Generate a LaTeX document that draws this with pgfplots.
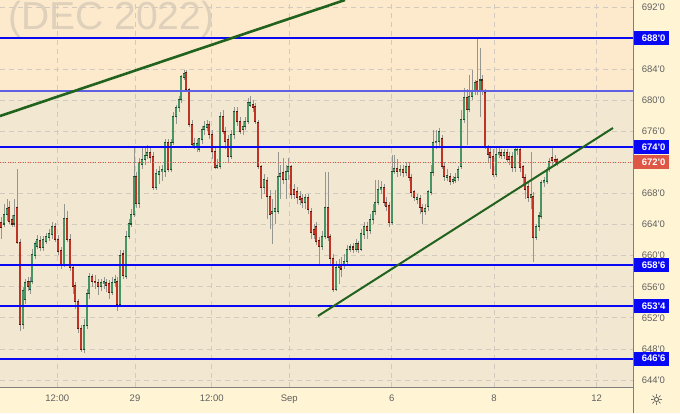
\documentclass[border=0pt]{standalone}
\usepackage{pgfplots}
\pgfplotsset{compat=1.18}
\usepackage{pgfplotstable}
\usepackage{fontspec}
\setmainfont{Liberation Sans}
\newfontfamily\dejavu{DejaVu Sans}
\newcommand{\q}{\textquotesingle}

\definecolor{bglow}{RGB}{242,231,208}
\definecolor{bgup}{RGB}{253,234,204}
\definecolor{panel}{RGB}{255,244,212}
\definecolor{mark}{RGB}{222,208,187}
\definecolor{gridc}{RGB}{210,202,190}
\definecolor{tickc}{RGB}{95,95,95}
\definecolor{lvl}{RGB}{8,8,245}
\definecolor{lvlthin}{RGB}{95,95,228}
\definecolor{trend}{RGB}{32,98,30}
\definecolor{lastred}{RGB}{222,86,70}
\definecolor{wick}{RGB}{150,150,145}
\definecolor{upout}{RGB}{28,78,48}
\definecolor{upin}{RGB}{72,148,100}
\definecolor{dnout}{RGB}{90,22,16}
\definecolor{dnin}{RGB}{190,52,38}

% x = position in px along the chart, o h l c = price
\pgfplotstableread{
x o h l c
1 664.3 665.0 662.1 663.7
4 664.1 666.6 663.7 665.3
7 665.3 667.3 664.4 666.0
9 666.2 667.0 664.1 664.4
12 664.6 665.3 663.7 664.1
14 664.1 667.3 663.7 665.2
17 666.2 671.1 661.5 661.7
20 661.7 662.1 650.3 651.2
23 651.2 656.0 650.6 655.5
25 654.4 657.0 653.8 656.6
28 656.6 657.3 655.5 656.0
30 655.7 657.3 655.1 656.7
32 656.7 660.8 656.4 660.1
35 660.1 661.9 659.6 661.5
37 661.2 662.6 660.8 662.1
40 662.0 662.6 660.6 661.1
43 661.1 662.6 660.6 662.1
46 661.9 662.9 661.5 662.4
49 662.4 663.4 661.9 662.8
52 662.8 664.4 662.1 663.8
55 663.8 664.2 661.7 662.1
58 662.1 662.6 660.1 660.6
61 660.6 661.1 658.3 658.8
64 658.8 666.6 658.5 664.8
67 664.8 665.7 661.7 662.1
70 662.1 662.8 658.0 658.5
73 658.5 658.9 655.1 656.1
75 656.1 656.6 653.2 654.1
78 654.1 654.4 650.0 650.6
81 650.6 651.1 647.6 648.0
84 648.0 651.9 647.5 651.0
87 651.0 655.7 650.6 655.1
89 655.1 657.8 654.4 657.3
92 657.3 657.6 656.0 656.7
95 656.7 657.5 655.7 656.6
98 656.6 657.0 655.0 656.1
101 656.1 657.0 655.5 656.5
104 656.4 657.3 655.7 656.7
106 656.6 657.0 655.3 656.2
109 656.4 656.9 654.4 655.3
112 655.3 657.3 655.0 656.6
115 656.6 657.5 656.0 656.9
117 656.7 657.3 652.9 653.8
120 653.8 660.8 653.4 660.0
123 660.2 660.8 657.0 657.4
126 657.4 663.2 657.0 662.5
129 662.5 664.7 662.1 664.1
131 664.1 666.0 663.7 665.3
134 665.3 674.1 665.0 670.2
136 670.2 670.8 666.2 666.7
139 666.7 672.6 666.2 672.0
142 671.7 673.9 671.1 672.4
145 672.4 673.9 671.7 672.9
147 672.9 674.2 672.4 673.3
150 673.3 673.9 672.1 672.6
153 672.8 673.4 668.5 668.8
156 668.8 671.1 668.5 670.5
159 670.5 671.6 669.2 670.8
162 670.8 671.7 669.6 671.1
165 670.8 675.0 670.1 674.6
168 674.6 675.0 670.8 671.1
171 671.1 675.0 670.8 674.6
173 674.6 678.5 674.2 677.9
176 677.9 679.4 677.0 679.1
179 679.1 680.6 678.5 680.1
181 680.1 683.3 679.6 683.0
184 683.0 683.9 682.6 683.5
186 683.5 683.9 681.1 681.4
189 681.4 681.6 676.5 676.9
192 676.9 677.5 673.9 674.3
194 674.2 675.2 673.7 674.4
197 674.1 675.0 673.4 674.4
199 673.7 675.2 673.4 675.0
202 675.0 676.7 674.4 676.2
204 676.2 677.3 675.6 676.6
207 676.5 677.5 676.0 676.9
209 676.9 677.3 675.0 675.6
212 675.6 676.2 672.4 673.4
215 673.4 673.9 671.1 671.4
217 671.4 672.4 671.1 671.6
220 671.5 678.5 671.1 677.9
223 677.9 678.8 675.6 676.0
225 676.0 676.5 673.7 674.7
228 675.0 675.6 672.1 672.8
231 672.8 676.2 672.4 675.6
234 675.6 679.1 675.0 678.5
237 678.5 679.1 676.7 677.3
240 677.3 677.8 675.6 676.0
243 676.2 677.3 675.6 676.6
245 676.6 677.8 676.2 677.3
248 677.3 680.3 676.9 679.7
250 679.4 680.6 679.1 679.7
253 679.4 680.1 678.5 679.1
255 679.2 679.6 676.9 677.3
258 677.1 677.5 671.1 671.5
261 671.5 671.7 667.3 668.8
264 668.8 670.5 667.9 669.8
267 669.6 670.1 664.7 667.6
270 667.6 668.5 663.4 665.3
272 665.5 667.3 661.5 665.7
275 665.7 668.5 664.1 666.0
278 665.7 673.3 665.3 670.2
280 670.2 671.7 667.3 670.5
283 670.7 672.6 669.2 669.8
286 669.8 671.7 667.3 670.8
288 670.8 672.6 669.8 671.4
291 671.4 671.7 667.3 667.9
294 668.5 669.2 667.3 667.9
297 668.2 668.8 666.6 667.5
300 667.6 668.3 666.5 667.3
302 667.4 667.9 666.2 666.9
305 666.9 667.9 666.0 667.5
308 667.5 667.9 665.3 666.0
311 665.7 666.2 662.1 663.0
314 663.4 664.1 662.1 662.8
316 663.8 664.4 661.4 661.9
319 661.9 662.4 658.9 661.2
322 661.2 663.2 660.8 662.5
325 662.5 670.8 662.1 666.2
328 666.2 670.8 661.9 662.4
330 662.4 662.8 658.9 659.6
333 659.6 660.2 655.3 655.7
336 655.7 659.3 655.5 658.5
339 658.5 659.6 656.4 658.8
341 658.9 659.8 657.3 658.3
344 658.8 660.2 658.3 659.3
347 659.3 661.4 658.9 660.8
350 660.8 661.5 660.5 661.1
353 661.1 661.6 660.3 660.8
356 660.8 662.1 660.5 661.5
358 661.5 661.9 660.3 660.8
361 660.8 663.4 660.6 662.8
364 662.8 664.4 662.1 663.8
367 663.8 664.3 662.1 663.2
370 663.2 665.3 662.8 664.7
373 664.7 666.6 664.1 665.7
375 665.7 669.8 665.3 666.9
378 666.9 669.8 666.5 668.5
381 668.5 669.6 667.9 668.8
384 668.8 669.2 666.4 666.9
386 666.9 667.5 665.7 666.4
389 666.4 666.9 663.7 664.3
392 664.3 673.0 663.9 670.8
394 670.8 673.0 670.5 671.2
397 671.2 672.4 670.1 670.8
400 670.8 671.7 670.3 671.1
403 671.1 671.7 670.1 670.7
406 670.7 672.0 670.3 671.5
409 671.5 672.0 669.6 670.1
411 670.1 670.5 667.5 668.2
414 668.2 668.5 667.0 667.5
417 667.3 667.9 666.6 667.5
420 667.3 667.8 665.3 666.2
422 666.2 666.7 664.1 665.7
425 665.7 666.6 665.3 666.1
428 666.4 668.5 665.7 668.2
431 668.2 671.7 667.8 670.7
433 670.7 676.2 670.3 674.6
436 674.6 676.2 673.7 674.7
439 674.7 676.5 673.9 676.0
442 675.0 675.6 671.1 671.5
444 671.5 672.0 669.6 670.2
447 670.1 671.1 669.6 670.3
450 670.2 670.7 669.1 669.6
453 669.6 670.3 669.2 669.8
455 669.7 670.6 669.3 670.1
458 670.1 671.6 669.6 671.1
461 671.5 678.8 671.1 677.5
464 677.5 681.6 677.1 680.3
467 680.3 681.4 674.3 678.8
469 678.8 683.3 678.5 680.5
472 680.5 683.9 680.1 681.1
475 681.1 682.6 680.7 682.3
477 682.4 688.0 680.7 681.1
480 681.1 686.7 677.8 682.6
482 682.6 683.2 680.7 681.1
485 681.0 681.4 673.7 674.1
488 673.9 674.3 672.1 673.0
490 673.3 673.9 671.1 672.6
493 672.8 673.7 670.1 670.5
496 670.5 673.9 670.1 673.0
499 673.0 673.9 672.6 673.3
501 673.3 673.7 672.4 672.9
504 672.9 673.7 672.4 673.3
507 673.3 673.7 672.0 672.4
509 672.8 673.4 671.7 672.4
512 672.8 673.3 670.8 671.4
515 671.4 673.9 670.8 673.7
517 673.5 673.9 673.0 673.7
520 673.7 673.9 670.8 671.4
523 671.4 671.7 669.2 670.1
525 670.1 670.5 667.3 668.5
528 668.9 669.4 666.9 667.5
531 667.5 673.3 666.0 667.9
533 667.6 668.2 659.2 662.4
536 662.4 664.1 662.0 663.8
539 663.8 665.6 663.2 665.1
541 665.1 669.8 664.7 669.4
544 669.4 670.1 668.8 669.6
547 669.6 671.4 669.2 671.1
549 671.1 672.6 670.8 672.1
552 672.6 674.1 671.7 672.3
555 672.4 672.9 671.6 672.1
557 672.3 672.6 671.6 672.0
}\candles

\pgfplotsset{
  candle/.style n args={2}{draw=none, mark=none, forget plot,
    error bars/.cd, y dir=both, y explicit, error mark=none,
    error bar style={draw=#1, line width=#2}},
}
\tikzset{
  pricebox/.style={fill=#1, anchor=west, inner xsep=0pt, inner ysep=0pt,
    minimum height=14pt, text width=36pt, align=left, text=white,
    font=\bfseries\fontsize{9.5}{10}\selectfont},
}

\begin{document}
\begin{tikzpicture}
% panels and backgrounds, in px of the 680x413 picture
\fill[panel] (0pt,0pt) rectangle (680pt,413pt);
\fill[bglow] (0pt,26pt) rectangle (633pt,321.8pt);
\fill[bgup] (0pt,321.8pt) rectangle (633pt,413pt);
\node[anchor=base west, inner sep=0pt, text=mark, font=\fontsize{39}{40}\selectfont] at (8pt,383pt) {(DEC 2022)};

\begin{axis}[
    at={(0pt,26pt)}, anchor=south west,
    width=633pt, height=387pt, scale only axis,
    xmin=0, xmax=633, ymin=643.1, ymax=692.9,
    axis x line*=bottom, axis y line*=right,
    axis line style={draw=none},
    major tick length=0pt,
    xtick={57.3,135,211.7,289.3,391.7,494,596.7},
    xticklabels={12:00,29,12:00,Sep,6,8,12},
    ytick={644,648,652,656,660,664,668,672,676,680,684,688,692},
    yticklabels={644\q0,648\q0,652\q0,656\q0,660\q0,664\q0,668\q0,672\q0,676\q0,680\q0,684\q0,688\q0,692\q0},
    grid=major,
    grid style={gridc, line width=0.7pt, dash pattern=on 5pt off 4pt},
    tick label style={font=\fontsize{9.5}{10}\selectfont, text=tickc},
    xticklabel style={anchor=base, inner sep=0pt, yshift=-14.7pt},
    yticklabel style={anchor=west, inner sep=0pt, xshift=8.7pt},
    clip=false,
]

% wicks
\addplot[candle={wick}{1pt}]
  table[x=x, y expr={(\thisrow{h}+\thisrow{l})/2},
        y error expr={(\thisrow{h}-\thisrow{l})/2}] {\candles};

% rising bodies
\addplot[restrict expr to domain={\thisrow{c}-\thisrow{o}}{0:100}, candle={upout}{2.8pt}]
  table[x=x, y expr={(\thisrow{o}+\thisrow{c})/2},
        y error expr={abs(\thisrow{c}-\thisrow{o})/2+0.08}] {\candles};
\addplot[restrict expr to domain={\thisrow{c}-\thisrow{o}}{0:100}, candle={upin}{1.3pt}]
  table[x=x, y expr={(\thisrow{o}+\thisrow{c})/2},
        y error expr={max(abs(\thisrow{c}-\thisrow{o})/2-0.05,0.01)}] {\candles};

% falling bodies
\addplot[restrict expr to domain={\thisrow{c}-\thisrow{o}}{-100:-0.001}, candle={dnout}{2.8pt}]
  table[x=x, y expr={(\thisrow{o}+\thisrow{c})/2},
        y error expr={abs(\thisrow{c}-\thisrow{o})/2+0.08}] {\candles};
\addplot[restrict expr to domain={\thisrow{c}-\thisrow{o}}{-100:-0.001}, candle={dnin}{1.3pt}]
  table[x=x, y expr={(\thisrow{o}+\thisrow{c})/2},
        y error expr={max(abs(\thisrow{c}-\thisrow{o})/2-0.05,0.01)}] {\candles};

% levels
\addplot[lvl, line width=1.5pt] coordinates {(0,688) (633,688)};
\addplot[lvlthin, line width=1.5pt] coordinates {(0,681.16) (633,681.16)};
\addplot[lvl, line width=2.2pt] coordinates {(0,674) (633,674)};
\addplot[lastred, line width=0.6pt, dash pattern=on 1pt off 1.5pt] coordinates {(0,672) (633,672)};
\addplot[lvl, line width=2.2pt] coordinates {(0,658.75) (633,658.75)};
\addplot[lvl, line width=2.2pt] coordinates {(0,653.5) (633,653.5)};
\addplot[lvl, line width=2.2pt] coordinates {(0,646.75) (633,646.75)};

% trend lines
\addplot[trend, line width=2.6pt] coordinates {(0,677.97) (345,692.9)};
\addplot[trend, line width=2pt] coordinates {(318,652.24) (613,676.43)};

% price labels on the scale
\node[pricebox=lvl] at (axis cs:633,688) {\hspace*{8.7pt}688\q0};
\node[pricebox=lvl] at (axis cs:633,674) {\hspace*{8.7pt}674\q0};
\node[pricebox=lastred] at (axis cs:633,672) {\hspace*{8.7pt}672\q0};
\node[pricebox=lvl] at (axis cs:633,658.75) {\hspace*{8.7pt}658\q6};
\node[pricebox=lvl] at (axis cs:633,653.5) {\hspace*{8.7pt}653\q4};
\node[pricebox=lvl] at (axis cs:633,646.75) {\hspace*{8.7pt}646\q6};
\end{axis}

% scale borders and settings icon
\draw[tickc!80, line width=1pt] (633pt,0pt) -- (633pt,413pt);
\draw[tickc!80, line width=1pt] (0pt,26pt) -- (633pt,26pt);
\node[text=black!80, font=\dejavu\fontsize{15}{15}\selectfont] at (656.5pt,13pt) {☼};

\pgfresetboundingbox
\path[use as bounding box] (0pt,0pt) rectangle (680pt,413pt);
\end{tikzpicture}
\end{document}
